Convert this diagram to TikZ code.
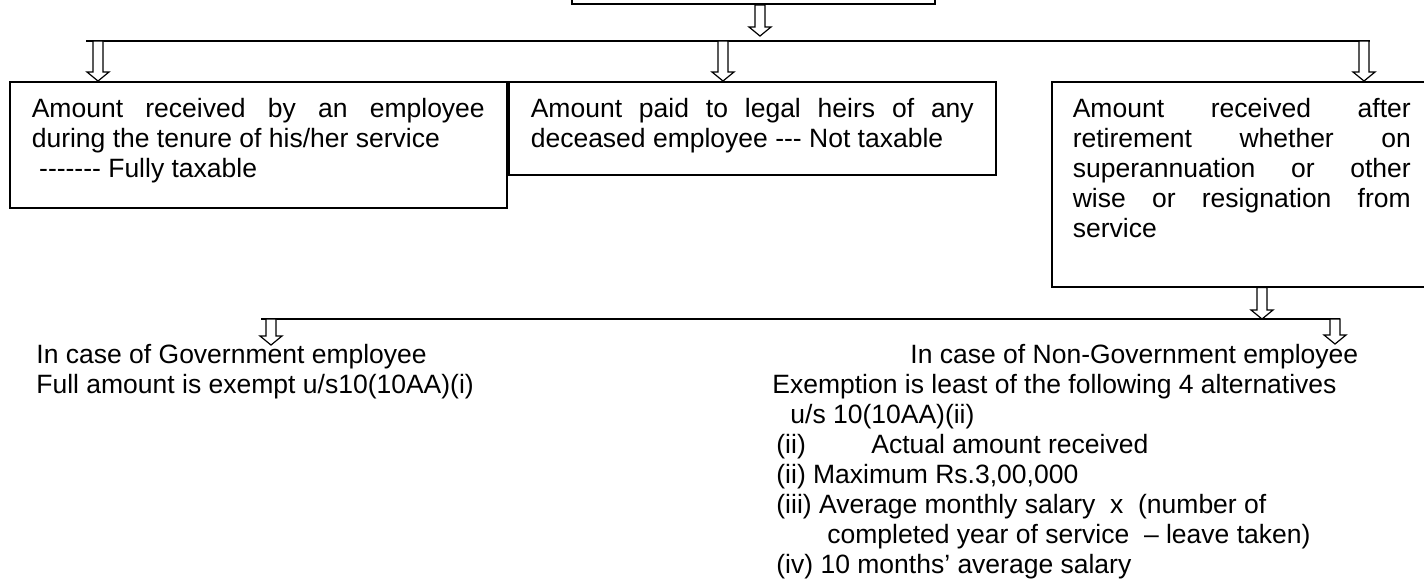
\documentclass[tikz,border=0pt]{standalone}
\usepackage{fontspec}
\setmainfont{Liberation Sans}[Ligatures=TeXOff]
\usetikzlibrary{calc}

\begin{document}
\begin{tikzpicture}[x=0.5pt, y=-0.5pt,
    every node/.style={font=\fontsize{13.25pt}{15pt}\selectfont, inner sep=0pt},
    box/.style={draw, line width=0.8pt, anchor=north west, align=justify,
      inner xsep=11pt, inner ysep=0pt, text height=18pt},
    hollow/.style={draw, fill=white, line width=0.6pt, to path={
      let \p1=(\tikztostart), \p2=(\tikztotarget) in
      (\x1-2.5pt,\y1) -- (\x1-2.5pt,\y2+4.5pt) -- (\x1-5.5pt,\y2+4.5pt) -- (\x1,\y2)
      -- (\x1+5.5pt,\y2+4.5pt) -- (\x1+2.5pt,\y2+4.5pt) -- (\x1+2.5pt,\y1) -- cycle}}]
      \useasboundingbox (0,0) rectangle (1424,580);
      \clip (0,0) rectangle (1424,580);

      % boxes
      \node[draw, line width=0.8pt, minimum width=181.5pt, minimum height=40pt,
        anchor=south west] (top) at (571,5) {};
      \node[box, text width=226.5pt, text depth=45pt] (box1) at (9,81)
        {Amount received by an employee\linebreak during the tenure of his/her service\\
         \hspace*{3.7pt}------- Fully taxable};
      \node[box, text width=221.5pt, text depth=28.5pt] (box2) at (508,81)
        {Amount paid to legal heirs of any\linebreak deceased employee --- Not taxable};
      \node[box, text width=169pt, text depth=84.5pt, inner xsep=10.5pt] (box3) at (1051,81)
        {Amount received after\linebreak retirement whether on\linebreak
         superannuation or other\linebreak wise or resignation from\linebreak service};

      % joining lines
      \coordinate (bus1w) at (86,41);
      \coordinate (bus1e) at (1370,41);
      \coordinate (bus2w) at (261,319);
      \coordinate (bus2e) at (1340,319);
      \draw[line width=0.8pt] (bus1w) -- (bus1e);
      \draw[line width=0.8pt] (bus2w) -- (bus2e);

      % arrows
      \coordinate (a0) at (760,36);
      \coordinate (a1) at (98,41);
      \coordinate (a2) at (723,41);
      \coordinate (a3) at (1364,41);
      \coordinate (a4) at (1262,319);
      \coordinate (a5) at (271,345);
      \coordinate (a6) at (1335,344);
      \draw[hollow] (a0 |- top.south) to (a0);
      \draw[hollow] (a1) to (a1 |- box1.north);
      \draw[hollow] (a2) to (a2 |- box2.north);
      \draw[hollow] (a3) to (a3 |- box3.north);
      \draw[hollow] (a4 |- box3.south) to (a4);
      \draw[hollow] (a5 |- bus2w) to (a5);
      \draw[hollow] (a6 |- bus2w) to (a6);

      % government side
      \node[anchor=base west] (gov1) at (36,363) {In case of Government employee};
      \node[anchor=base west] (gov2) at (36,393) {Full amount is exempt u/s10(10AA)(i)};

      % non-government side
      \node[anchor=base west] (ng1) at (910,363) {In case of Non-Government employee};
      \node[anchor=base west] (ng2) at (772,393) {Exemption is least of the following 4 alternatives};
      \node[anchor=base west] (ng3) at (790,423) {u/s 10(10AA)(ii)};
      \node[anchor=base west] (ng4) at (776,453) {\makebox[47.5pt][l]{(ii)}Actual amount received};
      \node[anchor=base west] (ng5) at (776,483) {(ii) Maximum Rs.3,00,000};
      \node[anchor=base west] (ng6) at (776,513) {(iii) Average monthly salary~ x~ (number of};
      \node[anchor=base west] (ng7) at (827,543) {completed year of service~ – leave taken)};
      \node[anchor=base west] (ng8) at (776,573) {(iv) 10 months’ average salary};
    \end{tikzpicture}
\end{document}
